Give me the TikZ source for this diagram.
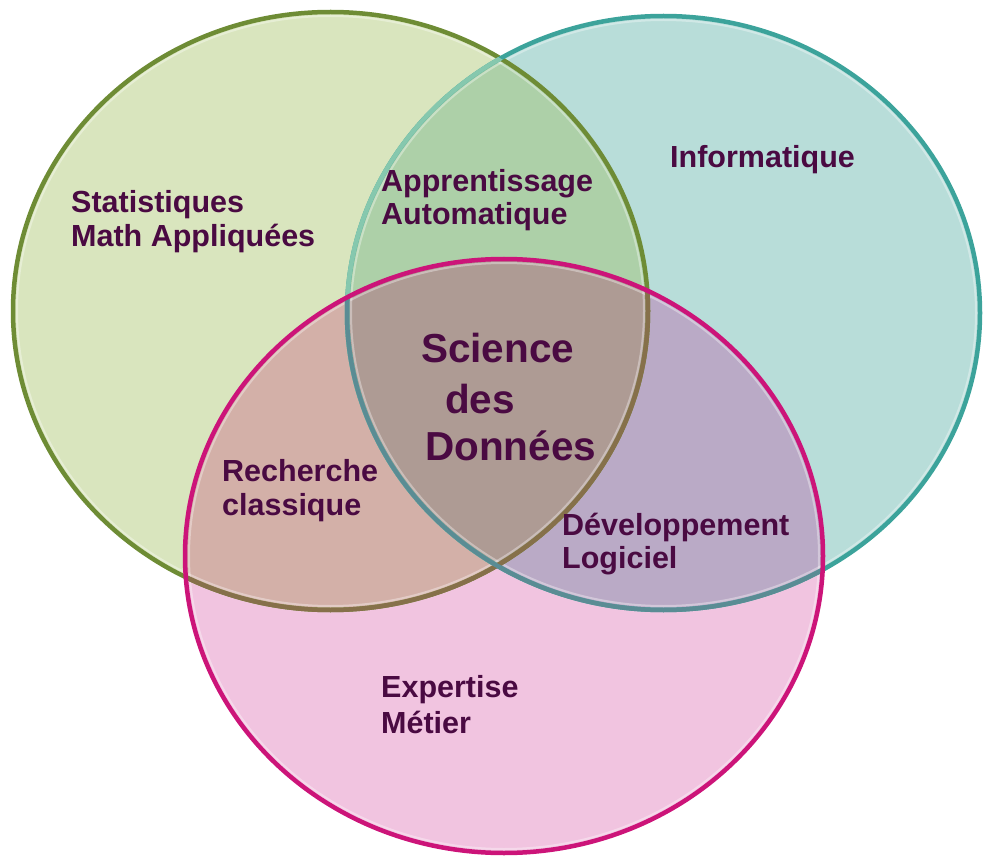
\documentclass[tikz,border=0pt]{standalone}
\usepackage{fontspec}
\setmainfont{Liberation Sans}
\definecolor{gfill}{HTML}{D9E5BE}
\definecolor{cfill}{HTML}{B8DDD9}
\definecolor{pfill}{HTML}{F1C4E0}
\definecolor{gcfill}{HTML}{ADD0A8}
\definecolor{gpfill}{HTML}{D3B0A8}
\definecolor{cpfill}{HTML}{BAAAC6}
\definecolor{gcpfill}{HTML}{AE9B94}
\definecolor{gline}{HTML}{6E8C35}
\definecolor{glinep}{HTML}{86704A}
\definecolor{cline}{HTML}{3CA39B}
\definecolor{clineg}{HTML}{86C8AE}
\definecolor{clinep}{HTML}{5A8C94}
\definecolor{pline}{HTML}{CC1479}
\definecolor{txt}{HTML}{4A0A42}
\begin{document}
\begin{tikzpicture}[x=1pt,y=-1pt,
  lbl/.style={anchor=base west,inner sep=0pt,text=txt,font=\bfseries\fontsize{30.5}{34}\selectfont},
  big/.style={anchor=base west,inner sep=0pt,text=txt,font=\bfseries\fontsize{40.5}{46}\selectfont},
  rim/.style={line width=4.5pt},
  halo/.style={line width=2pt,white,opacity=0.35}]
\useasboundingbox (0,0) rectangle (986,861);
\def\G{(330.5,311) ellipse [x radius=317.5, y radius=299]}
\def\C{(663.5,313) ellipse [x radius=316.5, y radius=297]}
\def\P{(504,556) ellipse [x radius=319, y radius=297]}
\def\Gi{(330.5,311) ellipse [x radius=313.5, y radius=295]}
\def\Ci{(663.5,313) ellipse [x radius=312.5, y radius=293]}
\def\Pi{(504,556) ellipse [x radius=315, y radius=293]}
% base fills
\fill[gfill] \G;
\fill[cfill] \C;
\fill[pfill] \P;
% overlaps
\begin{scope}\clip \G; \fill[gcfill] \C; \end{scope}
\begin{scope}\clip \G; \fill[gpfill] \P; \end{scope}
\begin{scope}\clip \C; \fill[cpfill] \P; \end{scope}
\begin{scope}\clip \G; \clip \C; \fill[gcpfill] \P; \end{scope}
% rims
\draw[halo] \Gi;
\draw[halo] \Ci;
\draw[halo] \Pi;
\draw[rim,gline] \G;
\draw[rim,cline] \C;
\begin{scope}\clip \G; \draw[rim,clineg] \C; \end{scope}
\begin{scope}\clip \P; \draw[rim,glinep] \G; \draw[rim,clinep] \C; \end{scope}
\draw[rim,pline] \P;
% labels
\node[lbl] (stat1) at (71,213) {Statistiques};
\node[lbl] (stat2) at (71,247) {Math Appliquées};
\node[lbl] (info) at (670,168) {Informatique};
\node[lbl] (app1) at (381,192) {Apprentissage};
\node[lbl] (app2) at (381,225) {Automatique};
\node[big] (sci1) at (421,362) {Science};
\node[big] (sci2) at (445,413) {des};
\node[big] (sci3) at (425,460) {Données};
\node[lbl] (rec1) at (222,481) {Recherche};
\node[lbl] (rec2) at (222,515) {classique};
\node[lbl] (dev1) at (562,535) {Développement};
\node[lbl] (dev2) at (562,568) {Logiciel};
\node[lbl] (exp1) at (381,697) {Expertise};
\node[lbl] (exp2) at (381,733) {Métier};
\end{tikzpicture}
\end{document}
